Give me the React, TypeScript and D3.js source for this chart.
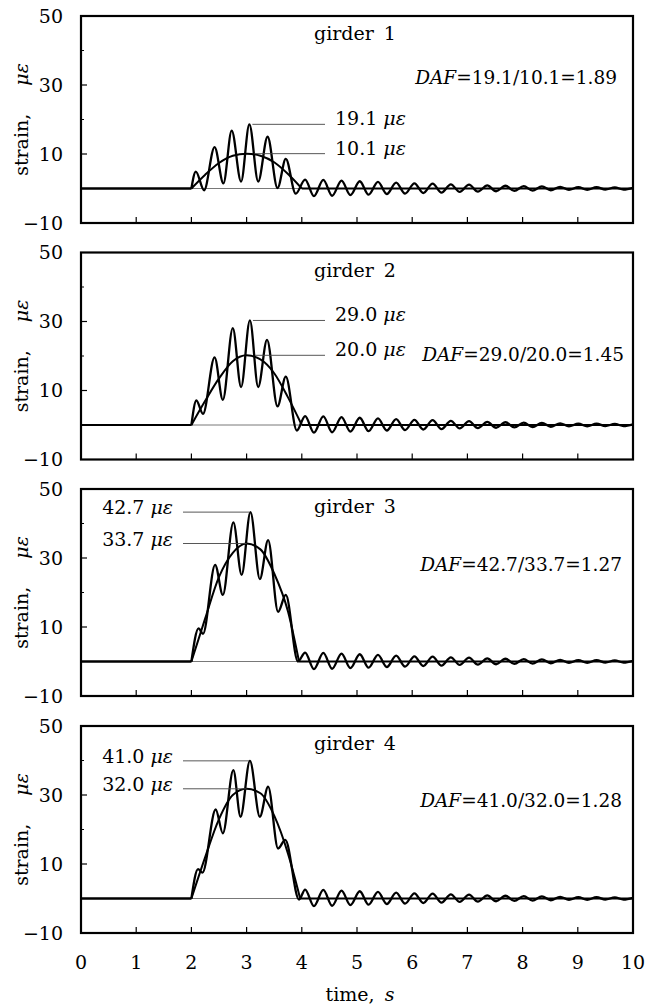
import React from 'react';
import * as d3 from 'd3';

// ---------- data ----------
const TIME_TICKS = [0, 1, 2, 3, 4, 5, 6, 7, 8, 9, 10];
const STRAIN_TICKS = [-10, 10, 30, 50];
const STRAIN_MINOR_TICKS = [0, 20, 40];
const GIRDERS = ['girder', 'girder', 'girder', 'girder'];
const GIRDER_NUMS = ['1', '2', '3', '4'];
const PEAK_LABELS = ['19.1', '29.0', '42.7', '41.0'];
const MEAN_LABELS = ['10.1', '20.0', '33.7', '32.0'];
const DAF_VALUES = ['=19.1/10.1=1.89', '=29.0/20.0=1.45', '=42.7/33.7=1.27', '=41.0/32.0=1.28'];

// forced-vibration part of the dynamic strain (extrema)
const G1_FORCED: [number, number][] = [[2.0, 0], [2.08, 4.9], [2.23, -0.5], [2.42, 12.0], [2.58, 1.5], [2.73, 16.8], [2.9, 2.0], [3.05, 18.6], [3.21, 2.0], [3.38, 15.0], [3.56, 0.1], [3.71, 8.6], [3.89, -1.5]];
const G2_FORCED: [number, number][] = [[2.0, 0], [2.09, 7.1], [2.21, 3.2], [2.42, 19.6], [2.57, 7.3], [2.75, 28.1], [2.9, 11.0], [3.06, 30.3], [3.21, 11.0], [3.37, 24.7], [3.56, 5.4], [3.71, 14.0], [3.91, -1.6]];
const G3_FORCED: [number, number][] = [[2.0, 0], [2.13, 9.6], [2.21, 8.0], [2.43, 28.0], [2.57, 19.3], [2.76, 40.3], [2.91, 25.1], [3.07, 43.3], [3.24, 23.9], [3.39, 35.2], [3.57, 14.4], [3.71, 19.3], [3.93, 0]];
const G4_FORCED: [number, number][] = [[2.0, 0], [2.12, 8.5], [2.2, 7.5], [2.44, 25.8], [2.57, 18.9], [2.76, 37.2], [2.89, 23.7], [3.06, 39.9], [3.24, 23.7], [3.39, 32.4], [3.57, 14.5], [3.7, 17.0], [3.95, -0.3]];

// static strain humps
const G1_STATIC: [number, number][] = [[2.0, 0], [2.25, 4.0], [2.5, 7.4], [2.75, 9.5], [3.0, 10.1], [3.25, 9.5], [3.5, 7.6], [3.75, 4.2], [4.0, 0]];
const G2_STATIC: [number, number][] = [[2.0, 0], [2.25, 7.0], [2.5, 13.5], [2.75, 18.5], [3.0, 20.2], [3.25, 19.0], [3.5, 15.0], [3.75, 8.0], [4.0, 0]];
const G3_STATIC: [number, number][] = [[2.0, 0], [2.25, 12.5], [2.5, 24.5], [2.75, 31.5], [3.0, 34.2], [3.25, 32.5], [3.5, 25.5], [3.75, 14.5], [3.95, 0]];
const G4_STATIC: [number, number][] = [[2.0, 0], [2.25, 12.0], [2.5, 23.0], [2.75, 30.0], [3.0, 31.8], [3.25, 30.5], [3.5, 24.0], [3.75, 13.0], [3.97, 0]];

// free vibration after the vehicle leaves (extrema)
const FREE_T = [4.06, 4.22, 4.39, 4.55, 4.72, 4.88, 5.05, 5.21, 5.38, 5.54, 5.71, 5.87, 6.04, 6.2, 6.37, 6.53, 6.7, 6.86, 7.03, 7.19, 7.36, 7.52, 7.69, 7.85, 8.02, 8.18, 8.35, 8.51, 8.68, 8.84, 9.01, 9.17, 9.34, 9.5, 9.67, 9.83, 10.0];
const FREE_V = [2.6, -2.2, 2.5, -2.1, 2.3, -1.9, 2.1, -1.8, 1.9, -1.6, 1.7, -1.5, 1.5, -1.3, 1.4, -1.2, 1.2, -1.0, 1.1, -0.9, 0.9, -0.8, 0.8, -0.7, 0.7, -0.6, 0.6, -0.5, 0.5, -0.4, 0.4, -0.4, 0.4, -0.3, 0.3, -0.3, 0.2];

const FORCED = [G1_FORCED, G2_FORCED, G3_FORCED, G4_FORCED];
const STATIC = [G1_STATIC, G2_STATIC, G3_STATIC, G4_STATIC];

// ---------- layout ----------
const W = 652;
const H = 1004;
const X0 = 81;
const X1 = 633;
const PANEL_TOPS = [16, 252.5, 489, 726];
const PANEL_H = 207;
const LABEL_SIDE = ['right', 'right', 'left', 'left'];
const DAF_POS = [{ x: 617, dy: 61 }, { x: 624, dy: 101 }, { x: 622, dy: 75 }, { x: 622, dy: 74 }];
const FONT = "'DejaVu Serif', 'Liberation Serif', serif";
const FS = 19;

const x = d3.scaleLinear().domain([0, 10]).range([X0, X1]);

function Panel({ i }: { i: number }) {
  const top = PANEL_TOPS[i];
  const y = d3.scaleLinear().domain([-10, 50]).range([top + PANEL_H, top]);
  const line = d3.line<[number, number]>().x(d => x(d[0])).y(d => y(d[1])).curve(d3.curveMonotoneX);
  const straight = d3.line<[number, number]>().x(d => x(d[0])).y(d => y(d[1]));

  const forced = FORCED[i];
  const stat = STATIC[i];
  const free: [number, number][] = FREE_T.map((t, k) => [t, FREE_V[k]]);
  const dynamic = [...forced, ...free];
  const dynStart = forced[0][0];
  const statStart = stat[0][0];
  const statEnd = stat[stat.length - 1][0];

  const peak = forced.reduce((a, b) => (b[1] > a[1] ? b : a));
  const mean = stat.reduce((a, b) => (b[1] > a[1] ? b : a));
  const yPeak = y(peak[1]);
  const yMean = y(mean[1]);
  const side = LABEL_SIDE[i];
  const cy = top + PANEL_H / 2;

  return (
    <g>
      {/* zero reference */}
      <line x1={X0} x2={X1} y1={y(0)} y2={y(0)} stroke="#555" strokeWidth={0.8} />
      {/* static */}
      <path d={straight([[0, 0], [statStart, 0]]) || ''} fill="none" stroke="#000" strokeWidth={2} />
      <path d={line(stat) || ''} fill="none" stroke="#000" strokeWidth={2} />
      <path d={straight([[statEnd, 0], [10, 0]]) || ''} fill="none" stroke="#000" strokeWidth={2.2} />
      {/* dynamic */}
      <path d={straight([[0, 0], [dynStart, 0]]) || ''} fill="none" stroke="#000" strokeWidth={2.2} />
      <path d={line(dynamic) || ''} fill="none" stroke="#000" strokeWidth={2.3} strokeLinejoin="round" />

      {/* leaders */}
      {side === 'right' ? (
        <g>
          <line x1={x(peak[0]) + 3} x2={325} y1={yPeak} y2={yPeak} stroke="#444" strokeWidth={0.9} />
          <line x1={x(peak[0]) + 5} x2={325} y1={yMean} y2={yMean} stroke="#444" strokeWidth={0.9} />
          <text x={335} y={yPeak + 1} fontSize={FS} fontFamily={FONT}>
            {PEAK_LABELS[i]}<tspan fontStyle="italic" dx={6}>με</tspan>
          </text>
          <text x={335} y={yMean + 1} fontSize={FS} fontFamily={FONT}>
            {MEAN_LABELS[i]}<tspan fontStyle="italic" dx={6}>με</tspan>
          </text>
        </g>
      ) : (
        <g>
          <line x1={183} x2={x(peak[0]) - 1} y1={yPeak} y2={yPeak} stroke="#444" strokeWidth={0.9} />
          <line x1={183} x2={x(mean[0])} y1={yMean} y2={yMean} stroke="#444" strokeWidth={0.9} />
          <text x={173} y={yPeak + 2} fontSize={FS} fontFamily={FONT} textAnchor="end">
            {PEAK_LABELS[i]}<tspan fontStyle="italic" dx={6}>με</tspan>
          </text>
          <text x={173} y={yMean + 2} fontSize={FS} fontFamily={FONT} textAnchor="end">
            {MEAN_LABELS[i]}<tspan fontStyle="italic" dx={6}>με</tspan>
          </text>
        </g>
      )}

      {/* girder name */}
      <text x={355} y={top + 24} fontSize={FS} fontFamily={FONT} textAnchor="middle">
        {GIRDERS[i]}<tspan dx={10}>{GIRDER_NUMS[i]}</tspan>
      </text>
      {/* DAF */}
      <text x={DAF_POS[i].x} y={top + DAF_POS[i].dy + 7} fontSize={18.5} fontFamily={FONT} textAnchor="end">
        <tspan fontStyle="italic">DAF</tspan>
        <tspan>{DAF_VALUES[i]}</tspan>
      </text>

      {/* frame */}
      <rect x={X0} y={top} width={X1 - X0} height={PANEL_H} fill="none" stroke="#000" strokeWidth={2.2} />
      {/* x ticks */}
      {TIME_TICKS.slice(1, -1).map(t => (
        <line key={t} x1={x(t)} x2={x(t)} y1={top + PANEL_H} y2={top + PANEL_H - 6} stroke="#000" strokeWidth={1.2} />
      ))}
      {/* y ticks */}
      {STRAIN_TICKS.slice(1, -1).map(v => (
        <line key={v} x1={X0} x2={X0 + 6} y1={y(v)} y2={y(v)} stroke="#000" strokeWidth={1.2} />
      ))}
      {STRAIN_MINOR_TICKS.map(v => (
        <line key={'m' + v} x1={X0} x2={X0 + 3} y1={y(v)} y2={y(v)} stroke="#000" strokeWidth={1} />
      ))}
      {STRAIN_TICKS.map(v => (
        <text key={'l' + v} x={63} y={y(v)} dy="0.36em" fontSize={FS} fontFamily={FONT} textAnchor="end">
          {v < 0 ? '\u2212' + Math.abs(v) : v}
        </text>
      ))}
      {/* y title */}
      <text transform={`translate(28,${cy}) rotate(-90)`} fontSize={FS} fontFamily={FONT} textAnchor="middle">
        strain,<tspan dx={28} fontStyle="italic">με</tspan>
      </text>
    </g>
  );
}

export default function App() {
  const bottom = PANEL_TOPS[3] + PANEL_H;
  return (
    <svg width={W} height={H} style={{ position: 'absolute', left: 0, top: 0, background: '#fff' }}>
      <rect x={0} y={0} width={W} height={H} fill="#fff" />
      {GIRDERS.map((_, i) => <Panel key={i} i={i} />)}
      {TIME_TICKS.map(t => (
        <text key={t} x={x(t)} y={bottom + 36} fontSize={FS} fontFamily={FONT} textAnchor="middle">{t}</text>
      ))}
      <text x={360} y={bottom + 68} fontSize={FS} fontFamily={FONT} textAnchor="middle">
        time,<tspan dx={10} fontStyle="italic">s</tspan>
      </text>
    </svg>
  );
}
